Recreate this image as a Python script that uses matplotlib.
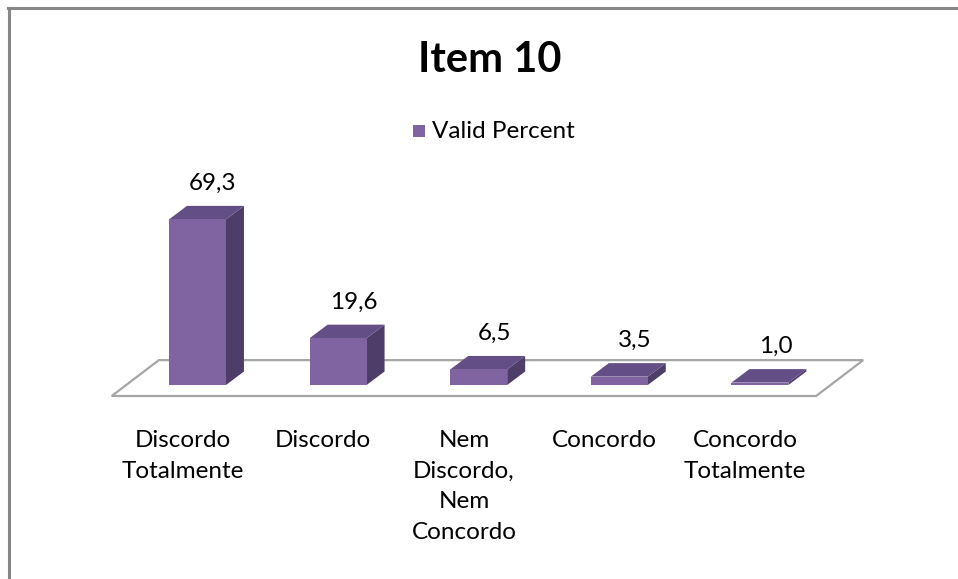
import matplotlib.pyplot as plt
from matplotlib.patches import Polygon, Rectangle
from matplotlib.lines import Line2D

plt.rcParams['font.family'] = ['Lato', 'DejaVu Sans']

# data
categories = ["Discordo\nTotalmente", "Discordo", "Nem\nDiscordo,\nNem\nConcordo",
              "Concordo", "Concordo\nTotalmente"]
values = [69.3, 19.6, 6.5, 3.5, 1.0]
value_labels = ["69,3", "19,6", "6,5", "3,5", "1,0"]
series_name = "Valid Percent"
title = "Item 10"

# colours for the 3d faces
c_front = "#8064A2"
c_top = "#634E86"
c_side = "#4F3D69"

# pseudo 3d geometry (category units / value units)
bar_w = 0.405
bar_dx, bar_dy = 0.128, 5.65
floor_x0, floor_x1 = -0.61, 4.40
floor_y0 = -4.6
floor_dx, floor_dy = 0.335, 15.0

fig = plt.figure(figsize=(9.58, 5.79), dpi=100)
ax = fig.add_axes([0, 0, 1, 1])
# axes fills the figure: 140.6 px per category, 2.39 px per percent
ax.set_xlim(-197.5 / 140.6, (958 - 197.5) / 140.6)
ax.set_ylim(-(579 - 385) / 2.39, 385 / 2.39)
ax.axis("off")

# floor
floor = Polygon([(floor_x0, floor_y0), (floor_x1, floor_y0),
                 (floor_x1 + floor_dx, floor_y0 + floor_dy),
                 (floor_x0 + floor_dx, floor_y0 + floor_dy)],
                closed=True, facecolor="white", edgecolor="#A6A6A6", lw=1.6, zorder=1)
ax.add_patch(floor)

for i, v in enumerate(values):
    x0 = i - bar_w / 2
    x1 = i + bar_w / 2
    side = Polygon([(x1, 0), (x1 + bar_dx, bar_dy), (x1 + bar_dx, v + bar_dy), (x1, v)],
                   closed=True, facecolor=c_side, edgecolor="none", zorder=2)
    top = Polygon([(x0, v), (x1, v), (x1 + bar_dx, v + bar_dy), (x0 + bar_dx, v + bar_dy)],
                  closed=True, facecolor=c_top, edgecolor="none", zorder=2)
    ax.add_patch(side)
    ax.add_patch(top)
    ax.add_patch(Rectangle((x0, 0), bar_w, v, facecolor=c_front, edgecolor="none", zorder=3))
    # value label
    ax.text(i + 0.11, v + bar_dy + 9.5, value_labels[i], ha="center", va="center",
            fontsize=17.5, color="black")
    # category label
    ax.text(i - 0.105, -19.0, categories[i], ha="center", va="top",
            fontsize=17.5, linespacing=1.56, color="black")

# title and legend
fig.text(490 / 958, 1 - 60 / 579, title, ha="center", va="center",
         fontsize=30, fontweight="bold")
fig.patches.append(Rectangle((413 / 958, 1 - 137 / 579), 12 / 958, 12 / 579,
                             transform=fig.transFigure, facecolor=c_front, edgecolor="none"))
fig.text(432 / 958, 1 - 131 / 579, series_name, ha="left", va="center", fontsize=17.5)

# chart border (top and left visible)
fig.add_artist(Line2D([8 / 958, 1], [1 - 8 / 579, 1 - 8 / 579], transform=fig.transFigure,
                      color="#878787", lw=2.2))
fig.add_artist(Line2D([9 / 958, 9 / 958], [0, 1 - 8 / 579], transform=fig.transFigure,
                      color="#878787", lw=2.2))

fig.savefig("out.png", dpi=100)
